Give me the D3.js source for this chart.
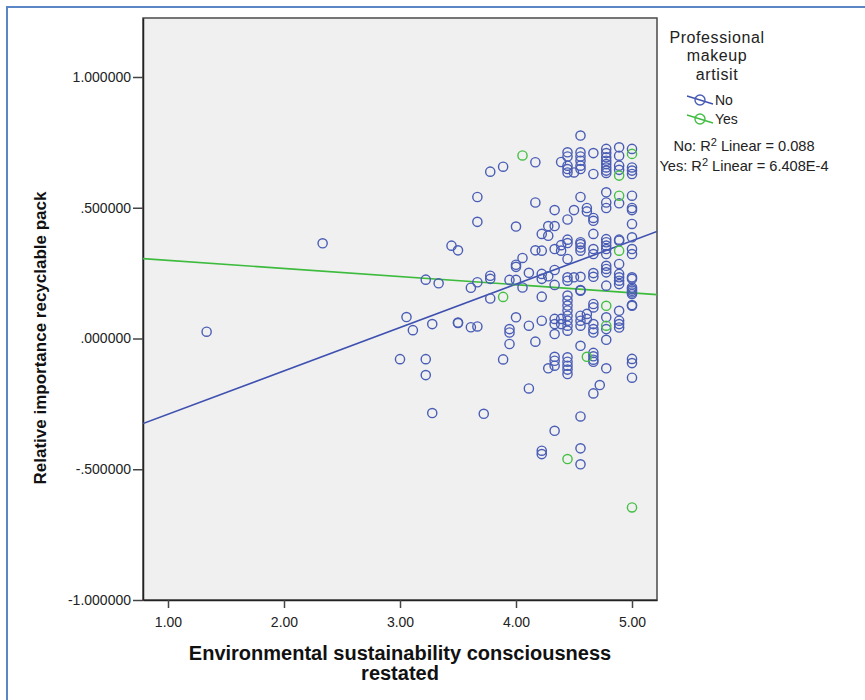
<!DOCTYPE html>
<html>
<head>
<meta charset="utf-8">
<script src="https://cdn.jsdelivr.net/npm/d3@7/dist/d3.min.js"></script>
<style>
  html, body { margin: 0; padding: 0; background: #fff; }
  svg { display: block; font-family: "Liberation Sans", Arial, sans-serif; }
</style>
</head>
<body>
<svg id="chart" width="865" height="700"></svg>
<script>
// Group names and legend title
const groups = ["No", "Yes"];
const legendTitle = ["Professional", "makeup", "artisit"];
const r2Labels = ["No: R\u00b2 Linear = 0.088", "Yes: R\u00b2 Linear = 6.408E-4"];

// Linear fit lines per group (intercept, slope), in the order of `groups`
const fitIntercepts = [-0.455, 0.330];
const fitSlopes = [0.1657, -0.0311];

// Tick values and their printed labels
const xTicks = [1, 2, 3, 4, 5];
const xTickLabels = ["1.00", "2.00", "3.00", "4.00", "5.00"];
const yTicks = [1, 0.5, 0, -0.5, -1];
const yTickLabels = ["1.000000", ".500000", ".000000", "-.500000", "-1.000000"];

// "No" respondents: consciousness score -> importance values at that score
const noByScore = [
  [1.333, [0.026]],
  [2.333, [0.364]],
  [3.000, [-0.079]],
  [3.056, [0.082]],
  [3.111, [0.032]],
  [3.222, [0.225, -0.079, -0.140]],
  [3.278, [0.055, -0.285]],
  [3.333, [0.211]],
  [3.444, [0.355]],
  [3.500, [0.337, 0.059, 0.061]],
  [3.611, [0.194, 0.043]],
  [3.667, [0.541, 0.446, 0.215, 0.046]],
  [3.722, [-0.288]],
  [3.778, [0.638, 0.240, 0.228, 0.153]],
  [3.889, [0.657, -0.080]],
  [3.944, [0.224, 0.036, 0.023, -0.021]],
  [4.000, [0.428, 0.282, 0.274, 0.224, 0.081]],
  [4.056, [0.308, 0.195]],
  [4.111, [0.251, 0.049, -0.191]],
  [4.167, [0.674, 0.520, 0.337, -0.012]],
  [4.222, [0.400, 0.336, 0.247, 0.228, 0.160, 0.068, -0.429, -0.442]],
  [4.278, [0.430, 0.393, 0.238, -0.114]],
  [4.333, [0.491, 0.430, 0.342, 0.262, 0.205, 0.075, 0.055, 0.017, -0.070, -0.085, -0.104, -0.353]],
  [4.389, [0.675, 0.357, 0.336, 0.075, 0.055]],
  [4.444, [0.712, 0.696, 0.661, 0.648, 0.635, 0.455, 0.378, 0.365, 0.304, 0.234, 0.221, 0.164, 0.145,
           0.126, 0.107, 0.087, 0.068, 0.049, 0.030, -0.072, -0.089, -0.104, -0.119, -0.136]],
  [4.500, [0.635, 0.491, 0.234]],
  [4.556, [0.776, 0.712, 0.696, 0.680, 0.661, 0.648, 0.541, 0.368, 0.361, 0.348, 0.336, 0.236, 0.185,
           0.183, 0.087, 0.068, 0.049, -0.028, -0.298, -0.420, -0.481]],
  [4.611, [0.499, 0.486, 0.094, 0.075]],
  [4.667, [0.709, 0.629, 0.461, 0.450, 0.400, 0.342, 0.323, 0.250, 0.236, 0.132, 0.119, 0.055, 0.036,
           0.023, -0.055, -0.068, -0.081, -0.089, -0.210]],
  [4.722, [-0.178]],
  [4.778, [0.725, 0.709, 0.693, 0.680, 0.667, 0.654, 0.642, 0.633, 0.559, 0.520, 0.499, 0.380, 0.368,
           0.355, 0.342, 0.323, 0.278, 0.266, 0.253, 0.202, 0.081, 0.036, -0.005, -0.114]],
  [4.889, [0.731, 0.699, 0.661, 0.645, 0.517, 0.378, 0.374, 0.285, 0.247, 0.234, 0.221, 0.208, 0.106,
           0.068, 0.055, 0.042]],
  [5.000, [0.725, 0.654, 0.642, 0.629, 0.546, 0.499, 0.491, 0.438, 0.387, 0.342, 0.323, 0.234, 0.228,
           0.195, 0.189, 0.183, 0.176, 0.170, 0.128, 0.125, -0.078, -0.094, -0.150]]
];

// "Yes" respondents
const yesByScore = [
  [3.889, [0.159]],
  [4.056, [0.700]],
  [4.444, [-0.461]],
  [4.611, [-0.070]],
  [4.778, [0.125, 0.049]],
  [4.889, [0.623, 0.546, 0.336]],
  [5.000, [0.706, -0.646]]
];

const colors = { No: "#4a5db5", Yes: "#45bf45" };
const lineColors = { No: "#3f51b0", Yes: "#3dbb3d" };

const flatten = rows => rows.flatMap(([x, ys]) => ys.map(y => ({ x, y })));
const series = { No: flatten(noByScore), Yes: flatten(yesByScore) };

// Plot frame
const plot = { left: 143, top: 18, right: 657, bottom: 600 };
const x = d3.scaleLinear().domain([0.7845, 5.2155]).range([plot.left, plot.right]);
const y = d3.scaleLinear().domain([-1, 1.2256]).range([plot.bottom, plot.top]);

const svg = d3.select("#chart");

// Outer panel border (left and top edges)
svg.append("path")
  .attr("d", "M7,700 L7,7 L865,7")
  .attr("fill", "none")
  .attr("stroke", "#5a86c5")
  .attr("stroke-width", 2);

svg.append("rect")
  .attr("x", plot.left).attr("y", plot.top)
  .attr("width", plot.right - plot.left).attr("height", plot.bottom - plot.top)
  .attr("fill", "#f0f0f0")
  .attr("stroke", "#4a4a4a")
  .attr("stroke-width", 1.5);

svg.append("defs").append("clipPath").attr("id", "clip")
  .append("rect")
  .attr("x", plot.left).attr("y", plot.top)
  .attr("width", plot.right - plot.left).attr("height", plot.bottom - plot.top);

const tickFont = "'Liberation Sans', Arial, sans-serif";

// Axes
const yAxis = d3.axisLeft(y).tickValues(yTicks).tickSize(10).tickSizeOuter(0).tickPadding(2)
  .tickFormat((d, i) => yTickLabels[i]);
const gy = svg.append("g").attr("transform", `translate(${plot.left},0)`).call(yAxis);
gy.select(".domain").attr("stroke", "#222").attr("stroke-width", 1.5);
gy.selectAll(".tick line").attr("stroke", "#444").attr("stroke-width", 1.5);
gy.selectAll(".tick text").attr("fill", "#222").style("font-size", "14px").style("font-family", tickFont);

const xAxis = d3.axisBottom(x).tickValues(xTicks).tickSize(8).tickSizeOuter(0).tickPadding(9)
  .tickFormat((d, i) => xTickLabels[i]);
const gx = svg.append("g").attr("transform", `translate(0,${plot.bottom})`).call(xAxis);
gx.select(".domain").attr("stroke", "#222").attr("stroke-width", 1.5);
gx.selectAll(".tick line").attr("stroke", "#444").attr("stroke-width", 1.5);
gx.selectAll(".tick text").attr("fill", "#222").style("font-size", "14px").style("font-family", tickFont);

// Fit lines across the full x range
const layer = svg.append("g").attr("clip-path", "url(#clip)");
groups.forEach((g, i) => {
  const a = fitIntercepts[i], b = fitSlopes[i];
  const [x0, x1] = x.domain();
  layer.append("line")
    .attr("x1", x(x0)).attr("y1", y(a + b * x0))
    .attr("x2", x(x1)).attr("y2", y(a + b * x1))
    .attr("stroke", lineColors[g]).attr("stroke-width", 1.6);
});

// Scatter points
groups.forEach(g => {
  layer.append("g").selectAll("circle")
    .data(series[g])
    .join("circle")
    .attr("cx", d => x(d.x))
    .attr("cy", d => y(d.y))
    .attr("r", 4.6)
    .attr("fill", "none")
    .attr("stroke", colors[g])
    .attr("stroke-width", 1.4);
});

// Axis titles
svg.append("text")
  .attr("x", 400).attr("y", 660)
  .attr("text-anchor", "middle")
  .style("font-weight", "bold").style("font-size", "20px").attr("fill", "#111")
  .text("Environmental sustainability consciousness");
svg.append("text")
  .attr("x", 400).attr("y", 680)
  .attr("text-anchor", "middle")
  .style("font-weight", "bold").style("font-size", "20px").attr("fill", "#111")
  .text("restated");
svg.append("text")
  .attr("transform", "translate(46,338) rotate(-90)")
  .attr("text-anchor", "middle")
  .style("font-weight", "bold").style("font-size", "17px").attr("fill", "#111")
  .text("Relative importance recyclable pack");

// Legend
const legend = svg.append("g");
legendTitle.forEach((t, i) => {
  legend.append("text")
    .attr("x", 717).attr("y", 42.5 + i * 18.5)
    .attr("text-anchor", "middle")
    .style("font-size", "16px").style("letter-spacing", "0.6px").attr("fill", "#222")
    .text(t);
});
groups.forEach((g, i) => {
  const cy = 100 + i * 19;
  legend.append("line")
    .attr("x1", 687).attr("y1", cy - 4).attr("x2", 713).attr("y2", cy + 4)
    .attr("stroke", lineColors[g]).attr("stroke-width", 1.4);
  legend.append("circle")
    .attr("cx", 700).attr("cy", cy).attr("r", 5)
    .attr("fill", "none").attr("stroke", colors[g]).attr("stroke-width", 1.4);
  legend.append("text")
    .attr("x", 715).attr("y", cy + 5)
    .style("font-size", "14px").attr("fill", "#222")
    .text(g);
});
r2Labels.forEach((t, i) => {
  const parts = t.split("\u00b2");
  const txt = legend.append("text")
    .attr("x", 744).attr("y", 151 + i * 20)
    .attr("text-anchor", "middle")
    .style("font-size", "14.6px").attr("fill", "#222");
  txt.append("tspan").text(parts[0]);
  txt.append("tspan").attr("dy", -5).style("font-size", "11px").text("2");
  txt.append("tspan").attr("dy", 5).text(parts[1]);
});
</script>
</body>
</html>
